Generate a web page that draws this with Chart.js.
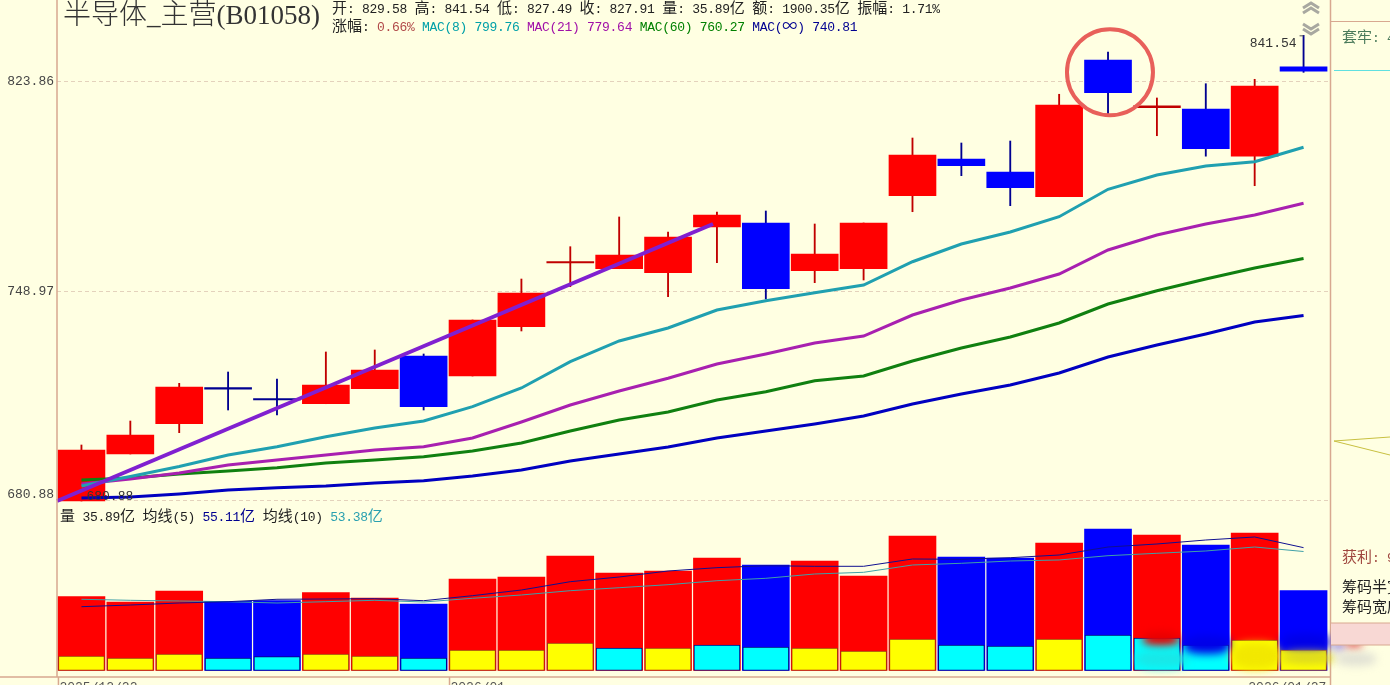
<!DOCTYPE html>
<html>
<head>
<meta charset="utf-8">
<title>半导体_主营(B01058)</title>
<script src="https://cdn.jsdelivr.net/npm/chart.js@4"></script>
<style>
  html, body { margin: 0; padding: 0; background: #FFFFE2; overflow: hidden; }
  #wrap { position: relative; width: 1390px; height: 685px; overflow: hidden; }
  #wrap canvas { position: absolute; left: 0; top: 0; }
  .txt { position: absolute; white-space: pre; font-family: "Liberation Mono", "Noto Sans CJK SC", monospace; font-size: 13px; letter-spacing: -0.3px; color: #222; line-height: 18px; }
  .txt b { font-family: "Noto Sans CJK SC", sans-serif; font-weight: 400; font-size: 15px; letter-spacing: 0; }
  #title { position: absolute; left: 63px; top: -5px; white-space: pre; color: #333; font-family: "Liberation Serif", serif; font-size: 27px; line-height: 34px; }
  #title b { font-family: "Noto Sans CJK SC", sans-serif; font-weight: 300; font-size: 28px; }
  .smudge { position: absolute; filter: blur(4px); border-radius: 40%; }
</style>
</head>
<body>
<div id="wrap">
  <canvas id="chart" width="1390" height="685"></canvas>

  <div class="smudge" style="left:1143px;top:632px;width:36px;height:14px;background:#e80000"></div>
  <div class="smudge" style="left:1136px;top:650px;width:52px;height:18px;background:#18e8e8"></div>
  <div class="smudge" style="left:1184px;top:636px;width:46px;height:18px;background:#0000e8"></div>
  <div class="smudge" style="left:1232px;top:643px;width:48px;height:26px;background:#f2e800"></div>
  <div class="smudge" style="left:1282px;top:634px;width:48px;height:16px;background:#0000e8"></div>
  <div class="smudge" style="left:1282px;top:652px;width:52px;height:12px;background:#dcd820"></div>
  <div class="smudge" style="left:1332px;top:636px;width:14px;height:16px;background:#b0a4e4"></div>
  <div class="smudge" style="left:1346px;top:638px;width:16px;height:11px;background:#e86464"></div>
  <div class="smudge" style="left:1336px;top:652px;width:40px;height:14px;background:#e2e2d4"></div>

  <div id="title"><b>半导体</b>_<b>主营</b>(B01058)</div>
  <div class="txt" style="left:332px;top:-2px"><b>开</b>: 829.58 <b>高</b>: 841.54 <b>低</b>: 827.49 <b>收</b>: 827.91 <b>量</b>: 35.89<b>亿</b> <b>额</b>: 1900.35<b>亿</b> <b>振幅</b>: 1.71%</div>
  <div class="txt" style="left:332px;top:16px"><b>涨幅</b>: <span style="color:#B04848">0.66%</span> <span style="color:#00A0A8">MAC(8) 799.76</span> <span style="color:#A010A8">MAC(21) 779.64</span> <span style="color:#008000">MAC(60) 760.27</span> <span style="color:#000090">MAC(<b>∞</b>) 740.81</span></div>
  <div class="txt" style="left:60px;top:506px"><b>量</b> 35.89<b>亿</b> <b>均线</b>(5) <span style="color:#000090">55.11<b>亿</b></span> <b>均线</b>(10) <span style="color:#2AA0B0">53.38<b>亿</b></span></div>

  <svg style="position:absolute;left:1300px;top:0" width="22" height="38">
    <path d="M3 8 L11 3 L19 8 M3 13 L11 8 L19 13" fill="none" stroke="#A8A8A0" stroke-width="3"/>
    <path d="M3 24 L11 29 L19 24 M3 29 L11 34 L19 29" fill="none" stroke="#A8A8A0" stroke-width="3"/>
  </svg>
  <svg style="position:absolute;left:1331px;top:0" width="59" height="685">
    <rect x="0" y="623" width="59" height="22" fill="#F8D8D4"/>
    <line x1="0" y1="623" x2="59" y2="623" stroke="#D8A890"/>
    <line x1="0" y1="645" x2="59" y2="645" stroke="#D8A890"/>
    <line x1="0" y1="21.5" x2="59" y2="21.5" stroke="#D8A890"/>
    <line x1="3" y1="70.5" x2="59" y2="70.5" stroke="#60E0E0"/>
    <path d="M3 441 L59 437 M3 441 L59 455" fill="none" stroke="#C8C040"/>
  </svg>
  <div class="txt" style="left:1342px;top:27px;color:#4A7A5A"><b>套牢</b>: 4</div>
  <div class="txt" style="left:1342px;top:547px;color:#A04840"><b>获利</b>: 9</div>
  <div class="txt" style="left:1342px;top:577px"><b>筹码半宽</b>: 9</div>
  <div class="txt" style="left:1342px;top:597px"><b>筹码宽度</b>: 9</div>
</div>

<script>
// trading days along the bottom
var categories = ["2025/12/22","2025/12/23","2025/12/24","2025/12/25","2025/12/26","2025/12/29","2025/12/30","2025/12/31",
  "2026/01/05","2026/01/06","2026/01/07","2026/01/08","2026/01/09","2026/01/12","2026/01/13","2026/01/14","2026/01/15","2026/01/16",
  "2026/01/19","2026/01/20","2026/01/21","2026/01/22","2026/01/23","2026/01/26","2026/01/27","2026/01/28"];
var dateTickIdx = [0, 8, 24];
var dateTickText = ["2025/12/22", "2026/01", "  2026/01/27"];
var priceTicks = [680.88, 748.97, 823.86];

// candles
var opens  = [680.88,695.60,705.25,716.95,713.35,711.69,716.57,727.31,720.72,737.07,758.80,756.77,755.39,771.27,772.67,756.08,756.77,782.33,795.50,790.81,781.97,832.15,814.30,813.80,796.52,829.58];
var closes = [696.86,701.63,717.13,716.45,712.90,717.78,722.69,710.73,739.32,748.45,759.20,761.50,767.77,775.49,749.91,761.85,772.67,796.95,793.08,785.18,815.28,819.86,815.00,799.23,822.36,827.91];
var highs  = [698.45,706.11,718.33,722.03,719.74,728.64,729.30,727.97,739.32,753.23,764.39,774.79,769.51,776.55,776.90,772.32,772.67,803.13,801.31,802.03,819.27,835.18,817.89,823.22,824.87,841.54];
var lows   = [680.88,695.60,702.37,709.66,708.05,711.69,716.57,709.66,720.72,735.63,750.60,756.77,747.19,758.84,746.41,751.97,752.89,776.65,789.48,778.78,781.97,811.95,803.97,796.52,785.89,827.49];

// moving averages on the price panel
var mac8   = [685.55,688.52,691.66,695.28,697.91,701.09,703.87,706.11,710.73,716.80,725.42,732.29,736.63,742.68,745.83,748.55,751.18,759.18,765.33,769.51,774.89,784.61,789.73,792.97,794.52,799.76];
var mac21  = [686.17,687.73,689.62,692.13,693.70,695.28,696.86,697.91,700.68,705.79,711.27,715.82,719.97,724.66,727.97,731.62,733.94,741.00,746.07,750.15,754.95,763.24,768.47,772.33,775.49,779.64];
var mac60  = [687.42,688.05,689.30,690.25,691.28,692.76,693.70,694.74,696.54,699.08,702.91,706.43,709.01,712.89,715.60,719.18,720.72,725.65,729.96,733.62,738.31,744.71,749.23,753.23,757.01,760.27];
var macInf = [681.82,682.13,683.06,684.30,685.02,685.55,686.49,687.20,688.68,690.56,693.38,695.60,697.81,700.68,702.91,705.15,707.72,711.60,714.85,717.78,721.71,726.97,730.96,734.62,738.64,740.81];

// volume panel, in 亿
var volume = [33.11,30.73,35.66,31.04,31.31,34.90,32.52,29.83,41.05,41.94,51.36,43.74,44.64,50.47,47.33,49.12,42.39,60.34,50.92,50.47,57.20,63.48,60.79,56.30,61.68,35.89];
var volIn  = [6.50,5.61,7.40,5.61,6.19,7.40,6.50,5.61,9.20,9.20,12.34,10.09,10.09,11.44,10.54,10.09,8.75,14.13,11.44,10.99,14.13,15.93,14.58,11.44,13.68,9.20];
var volInUp = [1,1,1,0,0,1,1,0,1,1,1,0,1,0,0,1,1,1,0,0,1,0,0,0,1,1]; // 1 yellow, 0 cyan
var volMa5  = [28.62,29.38,30.28,30.86,31.94,32.07,32.21,31.31,33.56,36.11,39.84,41.94,44.64,46.12,47.01,46.74,46.74,50.02,49.88,50.60,51.81,55.40,56.75,58.54,59.89,55.11];
var volMa10 = [31.94,31.49,31.18,30.86,30.28,30.86,31.49,30.73,32.39,33.87,35.80,37.14,38.49,40.28,41.36,43.29,44.05,47.33,48.09,49.12,49.57,51.50,52.58,53.61,55.40,53.38];

// hand drawn marks on the chart
var trendIdx = [-0.5, 12.92];
var trendVal = [680.88, 772.32];
var circleIdx = 21.04;
var circleVal = 827.5;

var FRAME = "#D8A890";
var MONO = "Liberation Mono";

function isUp(i) { return closes[i] >= opens[i]; }

var bodies = categories.map(function (c, i) { return [opens[i], closes[i]]; });
var wicks = categories.map(function (c, i) { return [lows[i], highs[i]]; });
var volCol = categories.map(function (c, i) { return isUp(i) ? "#FF0000" : "#0000FF"; });
var wickCol = categories.map(function (c, i) { return isUp(i) ? "#C00000" : "#000090"; });
// cross candles are just a thin dark line
var bodyCol = categories.map(function (c, i) { return Math.abs(closes[i] - opens[i]) < 1 ? wickCol[i] : volCol[i]; });
var innerCol = volInUp.map(function (u) { return u ? "#FFFF00" : "#00FFFF"; });
var innerEdge = volInUp.map(function (u) { return u ? "#A03010" : "#000080"; });

function lineSet(data, color, width, axis) {
  return { type: "line", data: data, borderColor: color, borderWidth: width, pointRadius: 0, tension: 0, yAxisID: axis, order: 1 };
}

// frame lines, trend line, circle and the high/low labels
var marks = {
  id: "marks",
  afterDatasetsDraw: function (chart) {
    var ctx = chart.ctx, x = chart.scales.x, y = chart.scales.y;
    ctx.save();

    ctx.font = "13px '" + MONO + "'";
    ctx.fillStyle = "#333";
    ctx.textBaseline = "middle";
    ctx.textAlign = "left";
    ctx.fillText(lows[0].toFixed(2), x.getPixelForValue(0) + 5, y.getPixelForValue(lows[0]) - 4);
    ctx.textAlign = "right";
    ctx.fillText(highs[25].toFixed(2), x.getPixelForValue(25) - 7, y.getPixelForValue(highs[25]) + 8);
    ctx.strokeStyle = "#555";
    ctx.lineWidth = 1;
    ctx.beginPath();
    ctx.moveTo(x.getPixelForValue(25) - 4, y.getPixelForValue(highs[25]) + 0.5);
    ctx.lineTo(x.getPixelForValue(25), y.getPixelForValue(highs[25]) + 0.5);
    ctx.stroke();

    ctx.strokeStyle = "#8020D0";
    ctx.lineWidth = 4;
    ctx.beginPath();
    ctx.moveTo(x.getPixelForValue(trendIdx[0]), y.getPixelForValue(trendVal[0]));
    ctx.lineTo(x.getPixelForValue(trendIdx[1]), y.getPixelForValue(trendVal[1]));
    ctx.stroke();

    ctx.strokeStyle = "#E8605A";
    ctx.lineWidth = 4;
    ctx.beginPath();
    ctx.arc(x.getPixelForValue(circleIdx), y.getPixelForValue(circleVal), 43, 0, Math.PI * 2);
    ctx.stroke();

    ctx.strokeStyle = FRAME;
    ctx.lineWidth = 1.5;
    ctx.beginPath();
    ctx.moveTo(57, 0); ctx.lineTo(57, 677);
    ctx.moveTo(0, 677); ctx.lineTo(1330, 677);
    ctx.moveTo(1330.5, 0); ctx.lineTo(1330.5, 685);
    dateTickIdx.slice(0, 2).forEach(function (i) {
      var tx = x.getPixelForValue(i) - 23;
      ctx.moveTo(tx, 677); ctx.lineTo(tx, 685);
    });
    ctx.stroke();
    ctx.restore();
  }
};

new Chart(document.getElementById("chart"), {
  type: "bar",
  data: {
    labels: categories,
    datasets: [
      lineSet(mac8, "#20A0B0", 3, "y"),
      lineSet(mac21, "#A820B0", 3, "y"),
      lineSet(mac60, "#108010", 3, "y"),
      lineSet(macInf, "#0000C0", 3, "y"),
      lineSet(volMa5, "#101090", 1, "y2"),
      lineSet(volMa10, "#40A0A8", 1, "y2"),
      { data: bodies, backgroundColor: bodyCol, barThickness: 47, grouped: false, yAxisID: "y", order: 5 },
      { data: wicks, backgroundColor: wickCol, barThickness: 1.2, grouped: false, yAxisID: "y", order: 6 },
      { data: volIn, backgroundColor: innerCol, borderColor: innerEdge, borderWidth: 1, borderSkipped: false, barThickness: 46, grouped: false, yAxisID: "y2", order: 3 },
      { data: volume, backgroundColor: volCol, barThickness: 47, grouped: false, yAxisID: "y2", order: 4 }
    ]
  },
  options: {
    responsive: false,
    animation: false,
    layout: { padding: { left: 0, right: 62, top: 0, bottom: 0 } },
    plugins: { legend: { display: false }, tooltip: { enabled: false } },
    scales: {
      x: {
        offset: true,
        grid: { display: false, drawTicks: false },
        border: { display: false },
        ticks: {
          autoSkip: false, maxRotation: 0, minRotation: 0, align: "start", labelOffset: -22, padding: 3,
          color: "#555", font: { family: MONO, size: 13 },
          callback: function (v, i) {
            var k = dateTickIdx.indexOf(i);
            return k < 0 ? "" : dateTickText[k];
          }
        },
        afterFit: function (s) { s.height = 8; s.paddingLeft = 0; s.paddingRight = 0; }
      },
      y: {
        type: "logarithmic", position: "left", stack: "panels", stackWeight: 503, weight: 1,
        min: 680.26, max: 855.17, bounds: "data",
        grid: { color: "#E4D2BC", lineWidth: 1, drawTicks: false, tickLength: 0 },
        border: { display: false, dash: [4, 3] },
        afterBuildTicks: function (s) { s.ticks = priceTicks.map(function (v) { return { value: v }; }); },
        ticks: {
          autoSkip: false, padding: 3, color: "#444", font: { family: MONO, size: 13, lineHeight: 1 },
          callback: function (v) { return v === priceTicks[0] ? [v.toFixed(2), ""] : v.toFixed(2); }
        },
        afterFit: function (s) { s.width = 57; s.paddingTop = 0; s.paddingBottom = 0; }
      },
      y2: {
        type: "linear", position: "left", stack: "panels", stackWeight: 174, weight: 0,
        min: -2.92, max: 75.14,
        grid: { display: false },
        border: { display: false },
        ticks: { display: false },
        afterFit: function (s) { s.width = 57; s.paddingTop = 0; s.paddingBottom = 0; }
      }
    }
  },
  plugins: [marks]
});
</script>
</body>
</html>
